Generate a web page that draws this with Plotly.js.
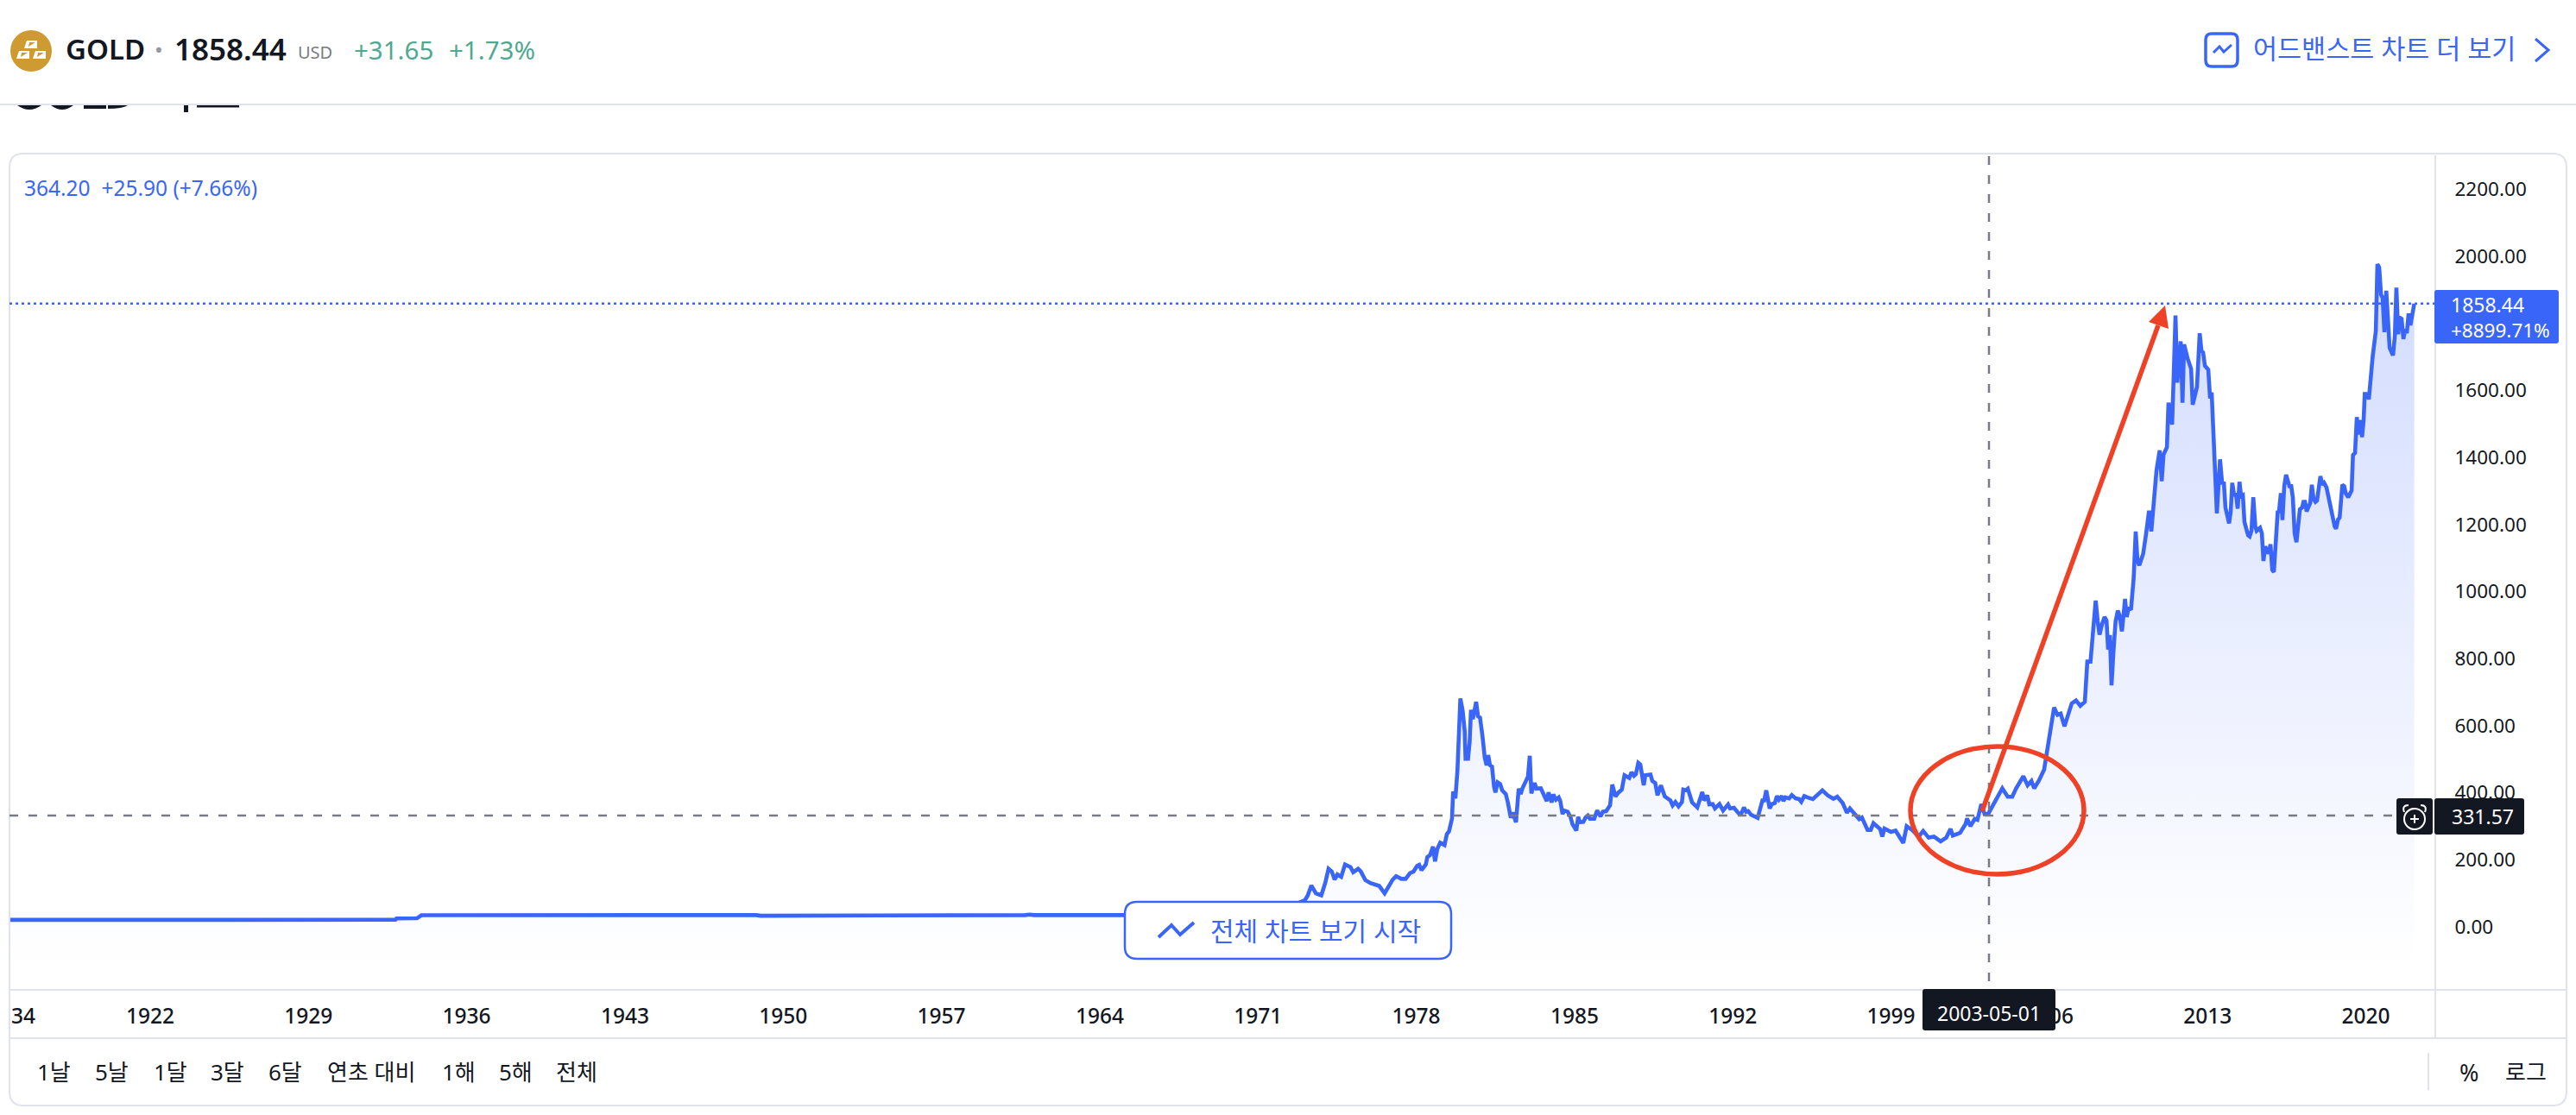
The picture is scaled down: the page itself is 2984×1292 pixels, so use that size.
<!DOCTYPE html>
<html>
<head>
<meta charset="utf-8">
<script src="https://cdn.plot.ly/plotly-3.0.1.min.js"></script>
<style>html,body{margin:0;padding:0;background:#fff;overflow:hidden}</style>
</head>
<body>
<div id="chart" style="width:2984px;height:1292px"></div>
<script>
const years = [
1915.7,1920,1925,1930,1930.9,1931,1931.9,1932,1932.85,1932.9,1933.8,1934,1938.9,1939,1939.9,1940,1944.9,1945,1948.8,1949,1949.9,1950,1954,1958,1960.7,1960.9,1961.1,1964,1966,1968,1969,1970,1971,1972,1972.6,
1973.07,1973.19,1973.36,1973.56,1973.8,1973.97,1974.12,1974.26,1974.39,1974.51,1974.68,1974.85,1975.09,1975.21,1975.43,1975.55,1975.75,1975.99,1976.36,1976.6,
1976.96,1977.11,1977.34,1977.53,1977.72,1977.88,1978.04,1978.13,1978.23,1978.42,1978.49,1978.61,1978.74,1978.83,1978.93,1979.06,1979.25,1979.35,1979.45,1979.58,1979.63,1979.73,1979.82,1979.89,1979.95,
1980.05,1980.14,1980.18,1980.29,1980.36,1980.42,1980.50,1980.65,1980.73,1980.82,1980.93,1981.03,1981.11,1981.18,1981.26,1981.35,1981.44,1981.50,1981.60,1981.71,1981.80,1981.96,
1982.05,1982.18,1982.27,1982.41,1982.53,1982.62,1982.69,1982.81,1982.94,1983.02,1983.09,1983.23,1983.32,1983.51,1983.64,1983.77,1983.85,1983.99,1984.06,1984.18,1984.30,1984.37,1984.47,1984.53,1984.70,1984.82,1984.91,
1985.08,1985.16,1985.23,1985.39,1985.49,1985.59,1985.68,1985.87,1986.00,1986.15,1986.25,1986.40,1986.57,1986.67,1986.81,1986.95,1987.09,1987.21,1987.42,1987.52,1987.63,1987.71,1987.82,1987.91,
1988.06,1988.13,1988.36,1988.44,1988.57,1988.67,1988.82,1988.99,1989.24,1989.34,1989.46,1989.60,1989.75,1989.81,1989.92,1990.01,1990.09,1990.20,1990.43,1990.54,1990.65,1990.73,1990.87,1990.96,
1991.11,1991.21,1991.41,1991.57,1991.79,1991.88,1992.05,1992.30,1992.36,1992.49,1992.59,1992.68,1992.81,1993.10,1993.31,1993.39,1993.48,1993.63,1993.73,1993.86,1993.95,
1994.04,1994.17,1994.24,1994.33,1994.49,1994.61,1994.78,1994.93,1995.03,1995.16,1995.29,1995.54,
1995.96,1996.2,1996.45,1996.62,1996.86,1997.05,1997.18,1997.42,1997.59,1997.71,1997.96,1998.1,1998.22,1998.52,1998.61,1998.71,1999.0,1999.2,1999.37,1999.54,1999.69,1999.93,
2000.22,2000.42,2000.66,2000.9,2001.19,2001.44,2001.63,2001.73,2002.05,2002.29,2002.36,2002.51,2002.7,2002.82,2002.99,2003.14,2003.29,2003.43,2003.58,2003.92,2004.16,2004.36,2004.53,2004.85,
2005.04,2005.21,2005.33,2005.53,2005.77,2006.02,2006.21,2006.36,2006.5,2006.67,2006.87,2006.99,2007.18,2007.37,2007.57,2007.68,2007.82,
2008.05,2008.14,2008.22,2008.33,2008.44,2008.53,2008.6,2008.68,2008.75,2008.84,2008.93,2009.03,2009.11,2009.21,2009.35,2009.42,2009.51,2009.61,2009.73,2009.82,2009.9,2009.98,
2010.15,2010.27,2010.41,2010.51,2010.64,2010.74,2010.88,2010.97,2011.05,2011.2,2011.27,2011.43,2011.49,2011.58,2011.66,2011.81,2011.89,2011.96,
2012.11,2012.22,2012.27,2012.34,2012.53,2012.65,2012.73,2012.8,2012.88,2013.03,2013.11,2013.18,2013.27,2013.41,2013.55,2013.64,2013.72,2013.79,2013.95,
2014.02,2014.09,2014.18,2014.25,2014.33,2014.41,2014.48,2014.56,2014.63,2014.79,2014.86,2014.94,2015.02,2015.11,2015.17,2015.32,2015.4,2015.47,2015.55,2015.7,2015.78,2015.86,2015.93,
2016.1,2016.16,2016.24,2016.31,2016.39,2016.47,2016.62,2016.7,2016.77,2016.85,2016.93,2017.08,2017.18,2017.24,2017.31,2017.38,2017.54,2017.61,2017.69,2017.77,2017.84,2017.99,
2018.07,2018.15,2018.26,2018.39,2018.53,2018.62,2018.68,2018.77,2018.84,2018.96,2019.04,2019.11,2019.22,2019.37,2019.43,2019.52,2019.6,2019.67,2019.75,2019.83,2019.9,2019.95,
2020.06,2020.13,2020.3,2020.44,2020.51,2020.59,2020.67,2020.74,2020.82,2020.9,2020.97,2021.05,2021.2,2021.28,2021.35,2021.43,2021.51,2021.58,2021.66,2021.74,2021.81,2021.89,2021.97,2022.14
];
const prices = [
20.7,20.7,20.7,20.7,22,22,20.7,20.7,21,25,25.5,34.5,35,34.2,34.2,33.8,33.8,35,35,33,33,35,35,35,35,36.5,35,35,35,39,43,36,41,60,66,
79,92,123,100,94,130,173,165,141,156,149,186,178,163,173,165,139,130,122,100,
141,151,143,143,160,165,182,185,169,186,208,214,239,195,232,251,244,276,285,323,403,383,465,585,681,
645,585,501,501,551,647,619,671,628,624,568,504,482,512,482,478,418,401,431,426,407,396,
371,325,341,312,412,396,412,432,448,510,398,429,412,413,396,375,401,371,395,379,386,375,336,347,343,328,306,
287,328,312,313,326,332,322,322,347,329,343,345,362,424,389,401,409,452,444,461,450,455,489,484,
422,452,454,435,429,392,422,389,377,362,372,359,372,409,407,412,396,371,356,375,402,377,392,365,
366,353,366,347,365,353,355,335,335,356,343,345,334,325,377,377,407,353,366,369,390,
379,390,375,386,383,393,383,381,373,390,386,381,
407,392,382,388,369,340,353,332,321,326,289,289,309,291,269,293,283,287,266,250,300,289,
269,286,266,269,255,266,292,272,280,306,323,300,322,319,366,336,336,353,375,413,388,388,413,449,
422,435,413,435,469,568,654,632,636,598,645,666,675,659,671,791,791,
973,911,871,902,924,913,827,870,720,825,911,943,928,881,978,924,952,945,1040,1179,1091,1078,
1113,1168,1241,1179,1288,1361,1421,1329,1408,1430,1563,1498,1623,1823,1623,1746,1563,1737,
1696,1666,1664,1557,1610,1770,1717,1713,1673,1661,1576,1593,1460,1233,1394,1324,1323,1250,1203,
1237,1324,1284,1293,1247,1327,1284,1287,1207,1168,1164,1181,1281,1194,1181,1190,1173,1091,1134,1113,1141,1064,1058,
1237,1239,1293,1213,1314,1348,1314,1314,1280,1173,1147,1245,1250,1267,1267,1239,1264,1318,1275,1267,1271,1344,
1318,1324,1310,1267,1215,1194,1187,1215,1220,1318,1314,1293,1281,1301,1407,1413,1520,1468,1511,1460,1511,1589,
1589,1573,1700,1777,1976,1966,1885,1876,1773,1897,1820,1727,1704,1760,1906,1767,1816,1813,1753,1782,1770,1829,1794,1858.44
];
const xTickVals = [1916.39,1922,1929,1936,1943,1950,1957,1964,1971,1978,1985,1992,1999,2006,2013,2020];
const xTickText = ["34","1922","1929","1936","1943","1950","1957","1964","1971","1978","1985","1992","1999","2006","2013","2020"];
const yTickVals = [0,200,400,600,800,1000,1200,1400,1600,2000,2200];
const yTickText = ["0.00","200.00","400.00","600.00","800.00","1000.00","1200.00","1400.00","1600.00","2000.00","2200.00"];
const rangeButtons = ["1날","5날","1달","3달","6달","연초 대비","1해","5해","전체"];
const rangeButtonCenters = [64,130,198,264,331,431,532,598,669];
const lastPrice = 1858.44, hoverPrice = 331.57, hoverYear = 2003.33;

const BLUE="#3a65f9", INK="#131722", GREY="#787b86", RULE="#e0e3eb", RED="#ee4125", GREEN="#4fa88f";
const FONT='"Noto Sans","Noto Sans CJK KR",sans-serif';
const L=11,R=2821,T=178,B=1147;
const px=x=>(x-L)/(R-L), py=y=>(B-y)/(B-T);
const P=(x,y)=>px(x)+","+py(y);
const xMin=1915.78,xMax=2023.07,yMin=-188,yMax=2305.7;

function roundRect(x0,y0,x1,y1,r){
  return "M"+P(x0+r,y0)+" L"+P(x1-r,y0)+" Q"+P(x1,y0)+" "+P(x1,y0+r)+" L"+P(x1,y1-r)+" Q"+P(x1,y1)+" "+P(x1-r,y1)+
   " L"+P(x0+r,y1)+" Q"+P(x0,y1)+" "+P(x0,y1-r)+" L"+P(x0,y0+r)+" Q"+P(x0,y0)+" "+P(x0+r,y0)+" Z";
}
const pshape=(path,o)=>Object.assign({type:"path",xref:"paper",yref:"paper",layer:"above",path:path,line:{width:0}},o||{});
const rule=(x0,y0,x1,y1,c,w)=>({type:"line",xref:"paper",yref:"paper",layer:"above",x0:px(x0),y0:py(y0),x1:px(x1),y1:py(y1),line:{color:c||RULE,width:w||2}});
const poly=pts=>"M"+pts.map(p=>P(p[0],p[1])).join(" L");

const shapes=[
  // chrome
  rule(0,121,2984,121),
  pshape(roundRect(11,178,2973,1281,16),{line:{color:RULE,width:2}}),
  rule(2821,180,2821,1203), rule(11,1147,2973,1147), rule(11,1203,2973,1203),
  rule(2813,1220,2813,1263),
  // clipped title remnant under the header rule
  pshape("M"+P(20,122)+" Q"+P(34,132)+" "+P(48,122)+" Z",{fillcolor:INK}),
  pshape("M"+P(59,122)+" Q"+P(72,132)+" "+P(85,122)+" Z",{fillcolor:INK}),
  pshape(poly([[97,122],[123,122],[123,126],[97,126]])+" Z",{fillcolor:INK}),
  pshape("M"+P(125,122)+" L"+P(148,122)+" Q"+P(142,126)+" "+P(125,126)+" Z",{fillcolor:INK}),
  pshape(poly([[213,122],[218,122],[218,130],[213,130]])+" Z",{fillcolor:INK}),
  pshape(poly([[228,122],[277,122],[277,124.5],[228,124.5]])+" Z",{fillcolor:INK}),
  // gold icon
  {type:"circle",xref:"paper",yref:"paper",layer:"above",x0:px(12),x1:px(60),y0:py(83),y1:py(35),fillcolor:"#ce9b33",line:{width:0}},
  pshape(poly([[31,47],[43,47],[43,56],[28,56]])+" Z",{fillcolor:"#fff"}),
  pshape(poly([[22,59],[34,59],[34,68],[19,68]])+" Z",{fillcolor:"#fff"}),
  pshape(poly([[41,59],[53,59],[53,68],[38,68]])+" Z",{fillcolor:"#fff"}),
  pshape(poly([[34,49],[41,49],[33,54]])+" Z",{fillcolor:"#ce9b33"}),
  pshape(poly([[25,61],[32,61],[24,66]])+" Z",{fillcolor:"#ce9b33"}),
  pshape(poly([[44,61],[51,61],[43,66]])+" Z",{fillcolor:"#ce9b33"}),
  // advanced chart icon and chevron
  pshape(roundRect(2555,39,2592,77,7),{line:{color:BLUE,width:3.5}}),
  pshape(poly([[2564,61],[2571,54],[2576,60],[2585,52]]),{line:{color:BLUE,width:3}}),
  pshape(poly([[2937,45],[2952,58],[2937,71]]),{line:{color:BLUE,width:3}}),
  // crosshair and price lines
  {type:"line",xref:"x",yref:"paper",layer:"above",x0:hoverYear,x1:hoverYear,y0:py(1137),y1:py(180),line:{color:GREY,width:2.5,dash:"10px,12px"}},
  {type:"line",xref:"paper",yref:"y",layer:"above",x0:0,x1:px(2776),y0:hoverPrice,y1:hoverPrice,line:{color:GREY,width:2.5,dash:"10px,12px"}},
  {type:"line",xref:"paper",yref:"y",layer:"above",x0:0,x1:1,y0:lastPrice,y1:lastPrice,line:{color:BLUE,width:2.5,dash:"3px,4px"}},
  // price tags
  pshape(roundRect(2820,336,2964,398,3),{fillcolor:BLUE}),
  pshape(roundRect(2776,925,2818,967,3),{fillcolor:INK}),
  pshape(roundRect(2820,925,2924,967,3),{fillcolor:INK}),
  {type:"circle",xref:"paper",yref:"paper",layer:"above",x0:px(2785),x1:px(2809),y0:py(961),y1:py(937),line:{color:"#fff",width:2}},
  pshape(poly([[2792,949],[2802,949]]),{line:{color:"#fff",width:2}}),
  pshape(poly([[2797,944],[2797,954]]),{line:{color:"#fff",width:2}}),
  pshape("M"+P(2785,941)+" Q"+P(2782,933)+" "+P(2790,933),{line:{color:"#fff",width:2}}),
  pshape("M"+P(2809,941)+" Q"+P(2812,933)+" "+P(2804,933),{line:{color:"#fff",width:2}}),
  pshape(roundRect(2227,1146,2381,1194,3),{fillcolor:INK}),
  // start-of-chart button
  pshape(roundRect(1303,1045,1681,1111,14),{fillcolor:"#fff",line:{color:BLUE,width:2.5}}),
  pshape(poly([[1342,1086],[1357,1072],[1367,1083],[1383,1069]]),{line:{color:BLUE,width:4}}),
  // red markup
  {type:"circle",xref:"paper",yref:"paper",layer:"above",x0:px(2213),x1:px(2414),y0:py(1013),y1:py(865),line:{color:RED,width:5.5}},
  pshape(poly([[2296,940],[2500,377]]),{line:{color:RED,width:5.5}}),
  pshape(poly([[2508,354],[2512,381],[2489,373]])+" Z",{fillcolor:RED})
];

const note=(text,x,y,size,color,anchor,extra)=>Object.assign({
  xref:"paper",yref:"paper",x:px(x),y:py(y),text:text,showarrow:false,xanchor:anchor||"left",yanchor:"middle",
  font:{family:FONT,size:size,color:color||INK},borderpad:0},extra||{});

const annotations=[
  note("GOLD",75,57,33,INK,"left",{font:{family:FONT,size:33,color:INK,weight:600}}),
  note("•",184,57,26,"#9598a1","center"),
  note("1858.44",201,57,35,INK,"left",{font:{family:FONT,size:35,color:INK,weight:600}}),
  note("USD",344,60,20,GREY),
  note("+31.65",409,58,29.5,GREEN),
  note("+1.73%",519,58,29.5,GREEN),
  note("어드밴스트 차트 더 보기",2609,56,30.5,BLUE),
  note("364.20  +25.90 (+7.66%)",27,217,24.5,BLUE),
  note("1858.44",2838,353,23,"#fff"),
  note("+8899.71%",2838,382,22.5,"#fff"),
  note("331.57",2839,946,23,"#fff"),
  note("2003-05-01",2304,1174,23,"#fff","center"),
  note("전체 차트 보기 시작",1401,1078,30,BLUE),
  note("%",2860,1242,27,INK,"center"),
  note("로그",2926,1242,26,INK,"center")
].concat(rangeButtons.map((t,i)=>note(t,rangeButtonCenters[i]-1,1242,26,INK,"center")));

const data=[
  {type:"scatter",mode:"lines",x:[years[0],years[years.length-1]],y:[yMin,yMin],line:{width:0},hoverinfo:"skip",showlegend:false},
  {type:"scatter",mode:"lines",x:years,y:prices,fill:"tonexty",
   fillgradient:{type:"vertical",start:yMax-300,stop:yMin+70,colorscale:[[0,"rgba(56,98,250,0.23)"],[1,"rgba(56,98,250,0)"]]},
   line:{color:BLUE,width:4.6,shape:"linear"},hoverinfo:"skip",showlegend:false}
];

const layout={
  width:2984,height:1292,paper_bgcolor:"#fff",plot_bgcolor:"#fff",showlegend:false,
  margin:{l:L,r:2984-R,t:T,b:1292-B,pad:0},
  xaxis:{type:"linear",range:[xMin,xMax],tickmode:"array",tickvals:xTickVals,ticktext:xTickText,showgrid:false,zeroline:false,showline:false,
    ticks:"outside",ticklen:9,tickcolor:"rgba(0,0,0,0)",tickangle:0,tickfont:{family:FONT,size:24.5,color:INK,weight:500}},
  yaxis:{type:"linear",side:"right",range:[yMin,yMax],tickmode:"array",tickvals:yTickVals,ticktext:yTickText,showgrid:false,zeroline:false,showline:false,
    ticks:"outside",ticklen:17,tickcolor:"rgba(0,0,0,0)",tickfont:{family:FONT,size:22.5,color:INK}},
  shapes:shapes,annotations:annotations
};
Plotly.newPlot("chart",data,layout,{staticPlot:true,displayModeBar:false,responsive:false});
</script>
</body>
</html>
